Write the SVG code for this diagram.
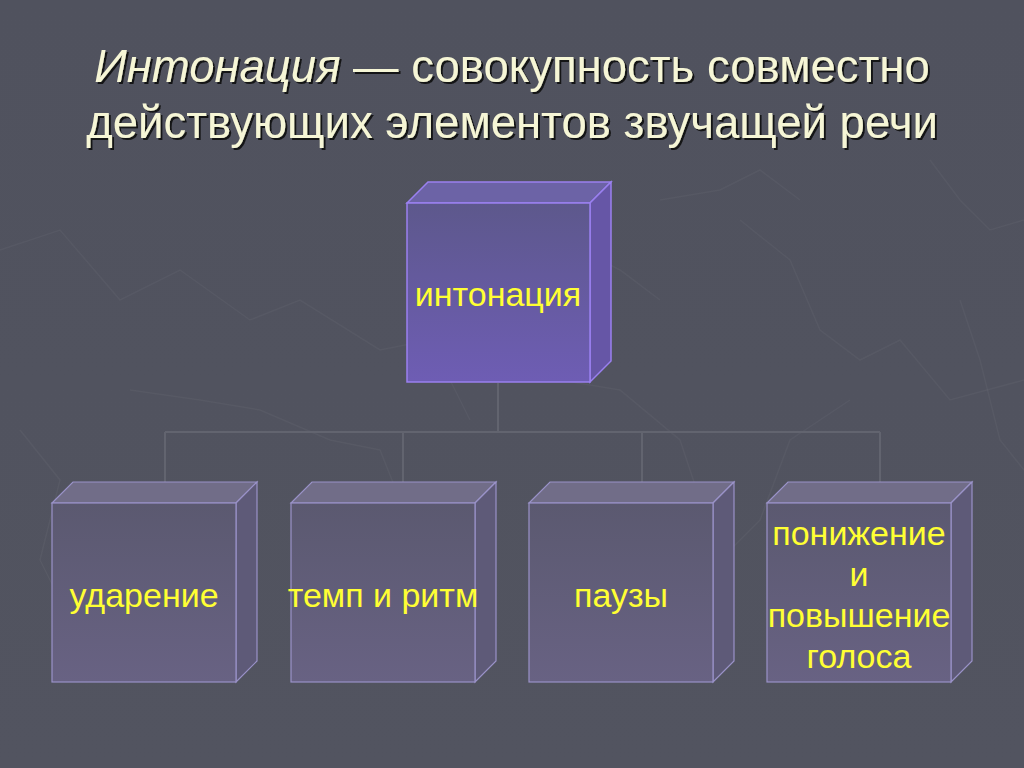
<svg xmlns="http://www.w3.org/2000/svg" width="1024" height="768" viewBox="0 0 1024 768">
  <defs>
    <linearGradient id="bg" x1="0" y1="0" x2="0" y2="1">
      <stop offset="0" stop-color="#50525e"/>
      <stop offset="1" stop-color="#525460"/>
    </linearGradient>
    <linearGradient id="topFront" x1="0" y1="0" x2="0" y2="1">
      <stop offset="0" stop-color="#5d588c"/>
      <stop offset="1" stop-color="#6e5db4"/>
    </linearGradient>
    <linearGradient id="botFront" x1="0" y1="0" x2="0" y2="1">
      <stop offset="0" stop-color="#5b5970"/>
      <stop offset="1" stop-color="#686283"/>
    </linearGradient>
    <filter id="shadow" x="-5%" y="-20%" width="110%" height="140%">
      <feDropShadow dx="2" dy="2" stdDeviation="0.6" flood-color="#111" flood-opacity="0.9"/>
    </filter>
    <style>
      .title { font-family: "Liberation Sans", Arial, sans-serif; font-size: 45.5px; fill: #f6f6d6; }
      .lbl { font-family: "Liberation Sans", Arial, sans-serif; font-size: 34px; fill: #ffff33; text-anchor: middle; }
      .bgline { fill: none; stroke: #ffffff; stroke-opacity: 0.035; stroke-width: 1.5; }
      .conn { fill: none; stroke: #62646f; stroke-width: 2; }
      .tFront { fill: url(#topFront); stroke: #9a80f0; stroke-width: 1.5; }
      .tTop { fill: #6c63a6; stroke: #9a80f0; stroke-width: 1.5; }
      .tSide { fill: #6656a6; stroke: #9a80f0; stroke-width: 1.5; }
      .bFront { fill: url(#botFront); stroke: #9a92c8; stroke-width: 1.2; }
      .bTop { fill: #716d88; stroke: #9a92c8; stroke-width: 1.2; }
      .bSide { fill: #5e5a78; stroke: #9a92c8; stroke-width: 1.2; }
    </style>
  </defs>

  <rect x="0" y="0" width="1024" height="768" fill="url(#bg)"/>

  <!-- faint background texture -->
  <g id="background-texture">
    <polyline class="bgline" points="0,250 60,230 120,300 180,270 250,320 300,300 380,350 430,340 470,420"/>
    <polyline class="bgline" points="130,390 200,400 260,410 330,440 380,450 400,500"/>
    <polyline class="bgline" points="560,380 620,390 680,440 700,500"/>
    <polyline class="bgline" points="740,220 790,260 820,330 860,360 900,340 950,400 1024,380"/>
    <polyline class="bgline" points="660,200 720,190 760,170 800,200"/>
    <polyline class="bgline" points="850,400 790,440 760,520 720,560"/>
    <polyline class="bgline" points="960,300 980,360 1000,440 1024,470"/>
    <polyline class="bgline" points="20,430 60,480 40,560 70,620"/>
    <polyline class="bgline" points="930,160 960,200 990,230 1024,220"/>
    <polyline class="bgline" points="520,250 560,240 620,270 660,300"/>
  </g>

  <g id="title" filter="url(#shadow)">
    <text class="title" x="512" y="82" text-anchor="middle"><tspan font-style="italic">Интонация</tspan> — совокупность совместно</text>
    <text class="title" x="512" y="138" text-anchor="middle">действующих элементов звучащей речи</text>
  </g>

  <g id="connectors">
    <line class="conn" x1="498" y1="383" x2="498" y2="432"/>
    <line class="conn" x1="165" y1="432" x2="880" y2="432"/>
    <line class="conn" x1="165" y1="432" x2="165" y2="482"/>
    <line class="conn" x1="403" y1="432" x2="403" y2="482"/>
    <line class="conn" x1="642" y1="432" x2="642" y2="482"/>
    <line class="conn" x1="880" y1="432" x2="880" y2="482"/>
  </g>

  <g id="node-intonation">
    <polygon class="tTop" points="407,203 428,182 611,182 590,203"/>
    <polygon class="tSide" points="590,203 611,182 611,361 590,382"/>
    <rect class="tFront" x="407" y="203" width="183" height="179"/>
    <text class="lbl" x="498" y="306">интонация</text>
  </g>

  <g id="node-stress">
    <polygon class="bTop" points="52,503 73,482 257,482 236,503"/>
    <polygon class="bSide" points="236,503 257,482 257,661 236,682"/>
    <rect class="bFront" x="52" y="503" width="184" height="179"/>
    <text class="lbl" x="144" y="607">ударение</text>
  </g>

  <g id="node-tempo">
    <polygon class="bTop" points="291,503 312,482 496,482 475,503"/>
    <polygon class="bSide" points="475,503 496,482 496,661 475,682"/>
    <rect class="bFront" x="291" y="503" width="184" height="179"/>
    <text class="lbl" x="383" y="607">темп и ритм</text>
  </g>

  <g id="node-pauses">
    <polygon class="bTop" points="529,503 550,482 734,482 713,503"/>
    <polygon class="bSide" points="713,503 734,482 734,661 713,682"/>
    <rect class="bFront" x="529" y="503" width="184" height="179"/>
    <text class="lbl" x="621" y="607">паузы</text>
  </g>

  <g id="node-pitch">
    <polygon class="bTop" points="767,503 788,482 972,482 951,503"/>
    <polygon class="bSide" points="951,503 972,482 972,661 951,682"/>
    <rect class="bFront" x="767" y="503" width="184" height="179"/>
    <text class="lbl" x="859" y="545">понижение</text>
    <text class="lbl" x="859" y="586">и</text>
    <text class="lbl" x="859" y="627">повышение</text>
    <text class="lbl" x="859" y="668">голоса</text>
  </g>
</svg>
